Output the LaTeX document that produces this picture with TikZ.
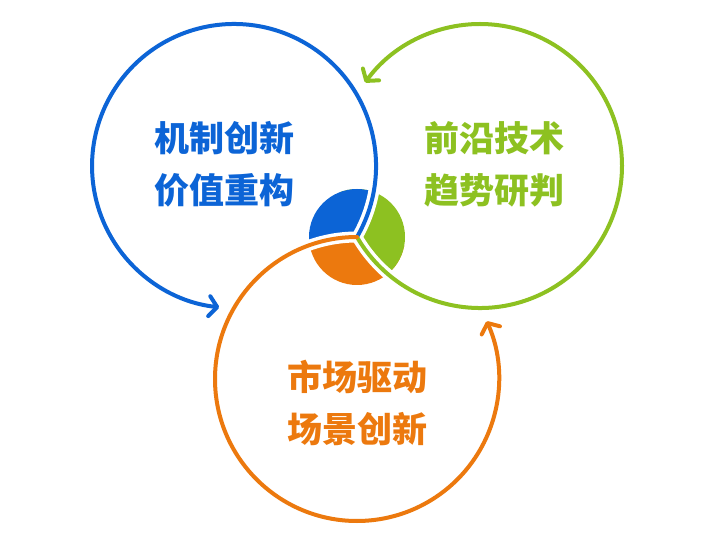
\documentclass[tikz,border=0pt]{standalone}
\usepackage{fontspec}
\newfontfamily\cjk{Noto Sans CJK SC}
\usetikzlibrary{calc,arrows.meta}
\definecolor{cblue}{RGB}{12,100,214}
\definecolor{cgreen}{RGB}{141,193,33}
\definecolor{corange}{RGB}{236,121,14}

\begin{document}
\begin{tikzpicture}[x=1pt,y=1pt,>={Straight Barb[round,length=8pt,width=20pt]},
  ring/.style={line width=4pt,line cap=round},
  halo/.style={white,line width=11pt},
  txt/.style={font=\cjk\bfseries\fontsize{35}{52}\selectfont,align=center}]
  \useasboundingbox (0,0) rectangle (720,544);
  \coordinate (J) at (357,307);
  \coordinate (cb) at ($(J)+(150:142)$);
  \coordinate (cg) at ($(J)+(30:142)$);
  \coordinate (co) at ($(J)+(270:142)$);
  % centre pie, split along the rings
  \begin{scope}
    \clip (J) circle[radius=48];
    \fill[corange] (co) circle[radius=142];
    \fill[cgreen] (cg) circle[radius=142];
    \begin{scope}
      \clip (cb) circle[radius=142];
      \fill[cblue,even odd rule] (co) circle[radius=142] (co) circle[radius=400];
    \end{scope}
  \end{scope}
  \draw[halo] (J) arc[start angle=-30,end angle=264,radius=142];
  \draw[halo] (J) arc[start angle=210,end angle=504,radius=142];
  \draw[halo] (J) arc[start angle=90,end angle=384,radius=142];
  \draw[ring,cblue,->] (J) arc[start angle=-30,end angle=264,radius=142];
  \draw[ring,cgreen,->] (J) arc[start angle=210,end angle=504,radius=142];
  \draw[ring,corange,->] (J) arc[start angle=90,end angle=384,radius=142];
  \node[txt,cblue] (mech) at (224,380) {机制创新\\价值重构};
  \node[txt,cgreen] (tech) at (494,380) {前沿技术\\趋势研判};
  \node[txt,corange] (market) at (357,141) {市场驱动\\场景创新};
\end{tikzpicture}
\end{document}
